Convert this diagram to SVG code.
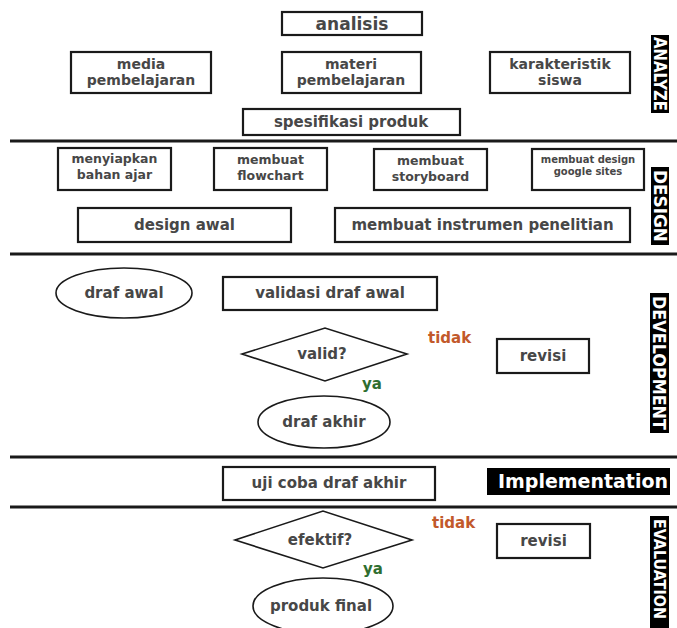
<svg xmlns="http://www.w3.org/2000/svg" width="677" height="628" viewBox="0 0 677 628">
<style>
  .box { fill: #fff; stroke: #1a1a1a; stroke-width: 2.2; }
  .shape { fill: #fff; stroke: #1a1a1a; stroke-width: 1.6; }
  .sep { stroke: #1a1a1a; stroke-width: 3; }
  .t { font-family: "DejaVu Sans", "Liberation Sans", sans-serif; font-weight: bold; fill: #474747; text-anchor: middle; }
  .s15 { font-size: 15px; }
  .s14 { font-size: 14px; }
  .s12 { font-size: 12.5px; }
  .s10 { font-size: 10px; }
  .lab { fill: #000; }
  .labt { font-family: "DejaVu Sans Condensed", "Liberation Sans Narrow", "DejaVu Sans", sans-serif; font-stretch: condensed; font-weight: bold; fill: #fff; font-size: 18px; text-anchor: middle; }
  .no { font-family: "DejaVu Sans", sans-serif; font-weight: bold; font-size: 15px; fill: #c2592b; }
  .yes { font-family: "DejaVu Sans", sans-serif; font-weight: bold; font-size: 15px; fill: #2f6e2f; }
</style>
<rect width="677" height="628" fill="#fff"/>

<g id="separators">
  <line class="sep" x1="10" y1="141" x2="677" y2="141"/>
  <line class="sep" x1="10" y1="254" x2="677" y2="254"/>
  <line class="sep" x1="10" y1="457" x2="677" y2="457"/>
  <line class="sep" x1="10" y1="507" x2="677" y2="507"/>
</g>

<g id="connectors"></g>

<!-- ANALYZE -->
<g id="analisis"><rect class="box" x="282" y="12" width="140" height="23"/><text class="t" x="352" y="30" font-size="17">analisis</text></g>
<g id="media"><rect class="box" x="71" y="52" width="140" height="41"/><text class="t s14" x="141" y="69">media</text><text class="t s14" x="141" y="85">pembelajaran</text></g>
<g id="materi"><rect class="box" x="282" y="52" width="139" height="41"/><text class="t s14" x="351" y="69">materi</text><text class="t s14" x="351" y="85">pembelajaran</text></g>
<g id="karakteristik"><rect class="box" x="490" y="52" width="140" height="41"/><text class="t s14" x="560" y="69">karakteristik</text><text class="t s14" x="560" y="85">siswa</text></g>
<g id="spesifikasi"><rect class="box" x="243" y="109" width="217" height="26"/><text class="t s15" x="351" y="127">spesifikasi produk</text></g>
<g id="label-analyze"><rect class="lab" x="651" y="35" width="18" height="78"/><text class="labt" transform="translate(660 74) rotate(90)" y="6.5" textLength="74" lengthAdjust="spacingAndGlyphs">ANALYZE</text></g>

<!-- DESIGN -->
<g id="menyiapkan"><rect class="box" x="58" y="148" width="113" height="42"/><text class="t s12" x="114.5" y="163">menyiapkan</text><text class="t s12" x="114.5" y="178.5">bahan ajar</text></g>
<g id="flowchart"><rect class="box" x="214" y="148" width="113" height="42"/><text class="t s12" x="270.5" y="164">membuat</text><text class="t s12" x="270.5" y="179.5">flowchart</text></g>
<g id="storyboard"><rect class="box" x="374" y="149" width="113" height="41"/><text class="t s12" x="430.5" y="165">membuat</text><text class="t s12" x="430.5" y="180.5">storyboard</text></g>
<g id="googlesites"><rect class="box" x="532" y="149" width="112" height="41"/><text class="t s10" x="588" y="163">membuat design</text><text class="t s10" x="588" y="175">google sites</text></g>
<g id="designawal"><rect class="box" x="78" y="208" width="213" height="34"/><text class="t s15" x="184.5" y="230">design awal</text></g>
<g id="instrumen"><rect class="box" x="335" y="208" width="295" height="34"/><text class="t s15" x="482.5" y="230">membuat instrumen penelitian</text></g>
<g id="label-design"><rect class="lab" x="651" y="167" width="18" height="78"/><text class="labt" transform="translate(660 206) rotate(90)" y="6.5" textLength="72" lengthAdjust="spacingAndGlyphs">DESIGN</text></g>

<!-- DEVELOPMENT -->
<g id="drafawal"><ellipse class="shape" cx="124" cy="293" rx="68" ry="25"/><text class="t s15" x="124" y="298">draf awal</text></g>
<g id="validasi"><rect class="box" x="223" y="277" width="214" height="33"/><text class="t s15" x="330" y="298">validasi draf awal</text></g>
<g id="valid"><polygon class="shape" points="242,354 325,328 407,354 325,381"/><text class="t s15" x="322" y="359">valid?</text></g>
<g id="tidak1"><text class="no" x="428" y="343">tidak</text></g>
<g id="revisi1"><rect class="box" x="497" y="339" width="92" height="34"/><text class="t s15" x="543" y="361">revisi</text></g>
<g id="ya1"><text class="yes" x="362" y="389">ya</text></g>
<g id="drafakhir"><ellipse class="shape" cx="324" cy="422" rx="66" ry="26"/><text class="t s15" x="324" y="427">draf akhir</text></g>
<g id="label-development"><rect class="lab" x="650" y="293" width="19" height="140"/><text class="labt" transform="translate(659.5 363) rotate(90)" y="6.5" textLength="134" lengthAdjust="spacingAndGlyphs">DEVELOPMENT</text></g>

<!-- IMPLEMENTATION -->
<g id="ujicoba"><rect class="box" x="223" y="467" width="212" height="33"/><text class="t s15" x="329" y="488">uji coba draf akhir</text></g>
<g id="label-implementation"><rect class="lab" x="487" y="468" width="183" height="27"/><text x="583" y="488" font-family="DejaVu Sans, sans-serif" font-weight="bold" font-size="19" fill="#fff" text-anchor="middle" textLength="170" lengthAdjust="spacingAndGlyphs">Implementation</text></g>

<!-- EVALUATION -->
<g id="efektif"><polygon class="shape" points="235,540 323,511 412,540 323,568"/><text class="t s15" x="320" y="545">efektif?</text></g>
<g id="tidak2"><text class="no" x="432" y="528">tidak</text></g>
<g id="revisi2"><rect class="box" x="497" y="524" width="93" height="34"/><text class="t s15" x="543.5" y="546">revisi</text></g>
<g id="ya2"><text class="yes" x="363" y="574">ya</text></g>
<g id="produkfinal"><ellipse class="shape" cx="323" cy="606" rx="70" ry="28"/><text class="t s15" x="321" y="611">produk final</text></g>
<g id="label-evaluation"><rect class="lab" x="650" y="516" width="19" height="112"/><text class="labt" transform="translate(659.5 569) rotate(90)" y="6" font-size="16" style="font-size:16px" textLength="100" lengthAdjust="spacingAndGlyphs">EVALUATION</text></g>
</svg>
